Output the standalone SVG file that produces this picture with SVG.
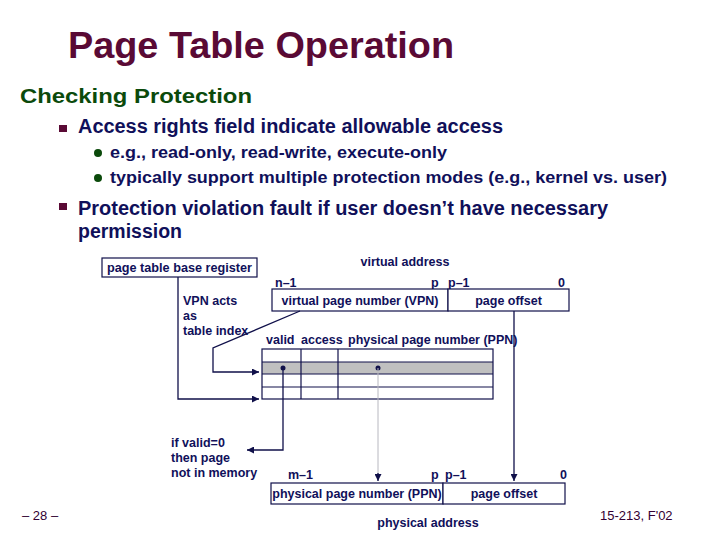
<svg xmlns="http://www.w3.org/2000/svg" width="720" height="540" viewBox="0 0 720 540">
<defs>
<style>
text{font-family:"Liberation Sans",Arial,sans-serif}
.ttl{font-size:36px;font-weight:bold;fill:#5a0a35}
.h1{font-size:21px;font-weight:bold;fill:#0b4a0b}
.b1{font-size:19.5px;font-weight:bold;fill:#10105a}
.b2{font-size:16px;font-weight:bold;fill:#10105a}
.lbl{font-size:12.5px;font-weight:bold;fill:#10105a}
.ft{font-size:13px;fill:#330033}
.box{fill:#fff;stroke:#10104a;stroke-width:1.2}
.ln{fill:none;stroke:#10104a;stroke-width:1.3}
.gl{fill:none;stroke:#b8b8c0;stroke-width:1}
.grid{stroke:#10104a;stroke-width:1.2}
</style>
<marker id="ah" viewBox="0 0 10 10" refX="10" refY="5" markerWidth="7" markerHeight="7" markerUnits="userSpaceOnUse" orient="auto">
<path d="M0,0 L10,5 L0,10 z" fill="#10104a"/>
</marker>
</defs>
<rect width="720" height="540" fill="#fff"/>

<g id="slide-text">
<text class="ttl" x="68" y="58" textLength="386" lengthAdjust="spacingAndGlyphs">Page Table Operation</text>
<text class="h1" x="20" y="103" textLength="232" lengthAdjust="spacingAndGlyphs">Checking Protection</text>
<rect x="59" y="125" width="8" height="7" fill="#5a0a35"/>
<text class="b1" x="78" y="133" textLength="425" lengthAdjust="spacingAndGlyphs">Access rights field indicate allowable access</text>
<circle cx="98" cy="153" r="4" fill="#0b4a0b"/>
<text class="b2" x="110" y="158" textLength="337" lengthAdjust="spacingAndGlyphs">e.g., read-only, read-write, execute-only</text>
<circle cx="98" cy="178" r="4" fill="#0b4a0b"/>
<text class="b2" x="110" y="183" textLength="557" lengthAdjust="spacingAndGlyphs">typically support multiple protection modes (e.g., kernel vs. user)</text>
<rect x="59" y="203" width="8" height="7" fill="#5a0a35"/>
<text class="b1" x="78" y="215" textLength="530" lengthAdjust="spacingAndGlyphs">Protection violation fault if user doesn’t have necessary</text>
<text class="b1" x="78" y="238">permission</text>
</g>

<g id="ptbr">
<rect class="box" x="102" y="258" width="155" height="19"/>
<text class="lbl" x="179.5" y="272" text-anchor="middle" textLength="145" lengthAdjust="spacingAndGlyphs">page table base register</text>
</g>

<g id="vpn-note">
<text class="lbl" x="183" y="305">VPN acts</text>
<text class="lbl" x="183" y="320">as</text>
<text class="lbl" x="183" y="335">table index</text>
</g>

<g id="virtual-address">
<text class="lbl" x="405" y="266" text-anchor="middle">virtual address</text>
<text class="lbl" x="275" y="287">n–1</text>
<text class="lbl" x="431" y="287">p</text>
<text class="lbl" x="448" y="287">p–1</text>
<text class="lbl" x="558" y="287">0</text>
<rect class="box" x="272" y="289" width="176" height="22"/>
<rect class="box" x="448" y="289" width="121" height="22"/>
<text class="lbl" x="360" y="305" text-anchor="middle">virtual page number (VPN)</text>
<text class="lbl" x="508.5" y="305" text-anchor="middle">page offset</text>
</g>

<g id="page-table">
<text class="lbl" x="266" y="344">valid</text>
<text class="lbl" x="301" y="344">access</text>
<text class="lbl" x="348" y="344">physical page number (PPN)</text>
<rect x="262" y="362" width="231" height="12" fill="#c0c0c0"/>
<rect x="262" y="349" width="231" height="50" fill="none" stroke="#10104a" stroke-width="1.2"/>
<line class="grid" x1="262" y1="362" x2="493" y2="362"/>
<line class="grid" x1="262" y1="374" x2="493" y2="374"/>
<line class="grid" x1="262" y1="387" x2="493" y2="387" stroke-width="2"/>
<line class="grid" x1="301" y1="349" x2="301" y2="399"/>
<line class="grid" x1="338" y1="349" x2="338" y2="399"/>
<circle cx="283" cy="368" r="2.5" fill="#10104a"/>
<circle cx="378" cy="368" r="2.5" fill="#10104a"/>
</g>

<g id="fault-note">
<text class="lbl" x="171" y="447">if valid=0</text>
<text class="lbl" x="171" y="462">then page</text>
<text class="lbl" x="171" y="477">not in memory</text>
</g>

<g id="physical-address">
<text class="lbl" x="288" y="479">m–1</text>
<text class="lbl" x="431" y="479">p</text>
<text class="lbl" x="445" y="479">p–1</text>
<text class="lbl" x="560" y="479">0</text>
<rect class="box" x="271" y="483" width="172" height="21"/>
<rect class="box" x="443" y="483" width="122" height="21"/>
<text class="lbl" x="357" y="498" text-anchor="middle">physical page number (PPN)</text>
<text class="lbl" x="504" y="498" text-anchor="middle">page offset</text>
<text class="lbl" x="428" y="527" text-anchor="middle">physical address</text>
</g>

<g id="connectors">
<path class="ln" d="M178,277 V399 H259" marker-end="url(#ah)"/>
<path class="ln" d="M300,311 L213,348 V372 H259" marker-end="url(#ah)"/>
<path class="ln" d="M283,368 V450 H247" marker-end="url(#ah)"/>
<path class="gl" d="M378,368 V474"/>
<path class="ln" d="M378,473 V481" marker-end="url(#ah)"/>
<path class="ln" d="M514,311 V481" marker-end="url(#ah)"/>
</g>

<g id="footer">
<text class="ft" x="22" y="520">– 28 –</text>
<text class="ft" x="600" y="520">15-213, F'02</text>
</g>
</svg>
